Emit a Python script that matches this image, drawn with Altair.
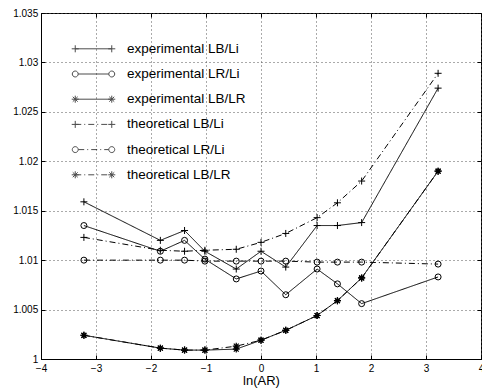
import altair as alt
import pandas as pd

# ---- data ----
ln_ar = [-3.22, -1.83, -1.39, -1.02, -0.45, 0.0, 0.45, 1.02, 1.39, 1.83, 3.22]

exp_lb_li = [1.0159, 1.0120, 1.0130, 1.0109, 1.0091, 1.0109, 1.0093, 1.0135, 1.0135, 1.0138, 1.0274]
exp_lr_li = [1.0135, 1.0109, 1.0120, 1.0101, 1.0081, 1.0089, 1.0065, 1.0091, 1.0076, 1.0056, 1.0083]
exp_lb_lr = [1.0024, 1.0011, 1.0009, 1.0009, 1.0010, 1.0019, 1.0029, 1.0044, 1.0059, 1.0082, 1.0190]
th_lb_li = [1.0123, 1.0110, 1.0109, 1.0110, 1.0111, 1.0118, 1.0127, 1.0143, 1.0158, 1.0180, 1.0289]
th_lr_li = [1.0100, 1.0100, 1.0100, 1.0099, 1.0099, 1.0099, 1.0099, 1.0098, 1.0098, 1.0098, 1.0096]
th_lb_lr = [1.0024, 1.0011, 1.0009, 1.0009, 1.0013, 1.0019, 1.0029, 1.0044, 1.0059, 1.0082, 1.0190]

series_names = ["experimental LB/Li", "experimental LR/Li", "experimental LB/LR",
                "theoretical LB/Li", "theoretical LR/Li", "theoretical LB/LR"]
series_values = [exp_lb_li, exp_lr_li, exp_lb_lr, th_lb_li, th_lr_li, th_lb_lr]
series_marker = ["plus", "circle", "star", "plus", "circle", "star"]
series_kind = ["experimental"] * 3 + ["theoretical"] * 3

x_ticks = [-4, -3, -2, -1, 0, 1, 2, 3, 4]
y_ticks = [1.0, 1.005, 1.01, 1.015, 1.02, 1.025, 1.03, 1.035]

rows = []
for name, vals, mk, kd in zip(series_names, series_values, series_marker, series_kind):
    for xv, yv in zip(ln_ar, vals):
        rows.append({"series": name, "x": xv, "y": yv, "marker": mk, "kind": kd})
df = pd.DataFrame(rows)

# ---- styles ----
SOLID = [1, 0]
DASHDOT = [6, 3, 1, 3]

PLUS = "M-1,0L1,0M0,-1L0,1"
STAR = "M-1,0L1,0M0,-1L0,1M-0.7,-0.7L0.7,0.7M-0.7,0.7L0.7,-0.7"

# legend symbols: a segment with a marker at each end (unit = sqrt(484)/2 = 11 px)
U = 11.0
L = 1.66
m = 0.32
r = 0.27
def plus_end(c):
    return f"M{c-m:.3f},0L{c+m:.3f},0M{c:.3f},{-m}L{c:.3f},{m}"
def star_end(c):
    d = m * 0.7
    return (plus_end(c) + f"M{c-d:.3f},{-d:.3f}L{c+d:.3f},{d:.3f}"
            f"M{c-d:.3f},{d:.3f}L{c+d:.3f},{-d:.3f}")
def circ_end(c):
    return f"M{c+r:.3f},0A{r},{r} 0 1,0 {c-r:.3f},0A{r},{r} 0 1,0 {c+r:.3f},0"
def solid(a, b):
    return f"M{a:.3f},0L{b:.3f},0"
def dashdot(a, b):
    pat = [v / U for v in DASHDOT]
    out, pos, i = "", a, 0
    while pos < b:
        seg = min(pat[i % 4], b - pos)
        if i % 2 == 0:
            out += f"M{pos:.3f},0L{pos + seg:.3f},0"
        pos += seg
        i += 1
    return out

legend_paths = [
    solid(-L, L) + plus_end(-L) + plus_end(L),
    solid(-L + r, L - r) + circ_end(-L) + circ_end(L),
    solid(-L, L) + star_end(-L) + star_end(L),
    dashdot(-L, L) + plus_end(-L) + plus_end(L),
    dashdot(-L + r, L - r) + circ_end(-L) + circ_end(L),
    dashdot(-L, L) + star_end(-L) + star_end(L),
]

xs = alt.Scale(domain=[-4, 4], nice=False, zero=False)
ys = alt.Scale(domain=[1.0, 1.035], nice=False, zero=False)
INWARD = alt.ExprRef(expr="-4")

# ---- lines with bottom/left axes and grid ----
lines = alt.Chart(df).mark_line(color="black", strokeWidth=1).encode(
    x=alt.X("x:Q", scale=xs, axis=alt.Axis(
        orient="bottom", values=x_ticks, title="ln(AR)", grid=True,
        gridDash=[1, 3], gridColor="#555", gridWidth=1,
        tickSize=INWARD, tickColor="black", labelPadding=8.5, labelFlush=False,
        labelFontSize=10, labelColor="black", domainColor="black",
        titleFontSize=13, titleFontWeight="normal", titleColor="black",
        titleBaseline="middle", titleY=21.5)),
    y=alt.Y("y:Q", scale=ys, axis=alt.Axis(
        orient="left", values=y_ticks, format="~g", title=None, grid=True,
        gridDash=[1, 3], gridColor="#555", gridWidth=1,
        tickSize=INWARD, tickColor="black", labelPadding=7.3, labelFlush=False,
        labelFontSize=10, labelColor="black", domainColor="black")),
    strokeDash=alt.StrokeDash("kind:N",
                              scale=alt.Scale(domain=["experimental", "theoretical"],
                                              range=[SOLID, DASHDOT]),
                              legend=None),
    detail="series:N",
)

# legend-only layer (invisible points, legend symbols drawn from shape paths)
legend_layer = alt.Chart(df).mark_point(filled=False, color="black", size=0).encode(
    x=alt.X("x:Q", scale=xs, axis=None),
    y=alt.Y("y:Q", scale=ys, axis=None),
    shape=alt.Shape("series:N", scale=alt.Scale(domain=series_names, range=legend_paths),
                    legend=alt.Legend(orient="none", legendX=41, legendY=24.3, title=None,
                                      padding=0, symbolSize=484, symbolStrokeColor="black",
                                      symbolStrokeWidth=1, labelFontSize=13.5,
                                      labelOffset=22, rowPadding=7.2, labelColor="black",
                                      labelLimit=400)),
)

def points(mk, shape, size, sw, axes=False):
    if axes:
        xa = alt.Axis(orient="top", values=x_ticks, labels=False, grid=False, domain=False,
                      tickSize=INWARD, tickColor="black", title=None)
        ya = alt.Axis(orient="right", values=y_ticks, labels=False, grid=False, domain=False,
                      tickSize=INWARD, tickColor="black", title=None)
    else:
        xa = None
        ya = None
    return alt.Chart(df).transform_filter(alt.datum.marker == mk).mark_point(
        shape=shape, size=size, filled=False, color="black", strokeWidth=sw, opacity=1
    ).encode(
        x=alt.X("x:Q", scale=xs, axis=xa),
        y=alt.Y("y:Q", scale=ys, axis=ya),
        detail="series:N",
    )

pts_plus = points("plus", PLUS, 49, 1, axes=True)
pts_circ = points("circle", "circle", 36, 1)
pts_star = points("star", STAR, 49, 1.2)

chart = alt.layer(lines, legend_layer, pts_plus, pts_circ, pts_star).resolve_axis(
    x="independent", y="independent"
).properties(
    width=440, height=346,
    padding={"left": 41, "top": 13, "right": 1, "bottom": 29},
    autosize=alt.AutoSizeParams(type="none"),
).configure(font="Liberation Sans").configure_view(stroke="black", strokeWidth=1)

chart.save("out.html", embed_options={"renderer": "svg", "actions": False})
